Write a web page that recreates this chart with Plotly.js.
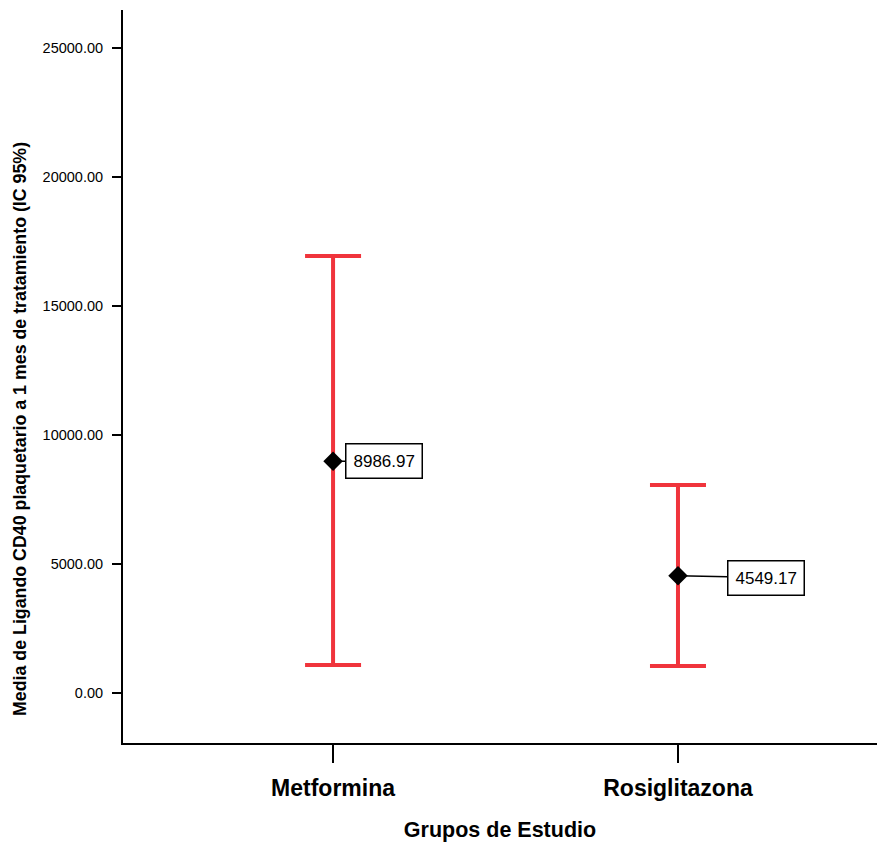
<!DOCTYPE html>
<html>
<head>
<meta charset="utf-8">
<script src="https://cdn.plot.ly/plotly-3.0.1.min.js"></script>
<style>html,body{margin:0;padding:0;background:#fff;}#chart{width:877px;height:846px;}</style>
</head>
<body>
<div id="chart"></div>
<script>
const categories = ["Metformina", "Rosiglitazona"];
const means = [8986.97, 4549.17];
const upperCI = [16938, 8062];
const lowerCI = [1085, 1047];
const labels = ["8986.97", "4549.17"];
const yTickVals = [0, 5000, 10000, 15000, 20000, 25000];
const yTickText = ["0.00", "5000.00", "10000.00", "15000.00", "20000.00", "25000.00"];

const errPlus = means.map((m, i) => upperCI[i] - m);
const errMinus = means.map((m, i) => m - lowerCI[i]);
const FONT = "Liberation Sans, Arial, sans-serif";

const trace = {
  type: "scatter",
  mode: "markers",
  x: categories,
  y: means,
  marker: { symbol: "diamond", size: 15, color: "#000" },
  error_y: {
    type: "data", symmetric: false,
    array: errPlus, arrayminus: errMinus,
    color: "rgb(240,52,60)", thickness: 4, width: 28
  },
  hoverinfo: "skip",
  showlegend: false
};

const offsets = [[51, 0], [88, 2]];
const annotations = categories.map((c, i) => ({
  x: c, y: means[i], xref: "x", yref: "y",
  text: labels[i],
  showarrow: true, arrowhead: 0, arrowwidth: 1.5, arrowcolor: "#000",
  ax: offsets[i][0], ay: offsets[i][1],
  bordercolor: "#000", borderwidth: 1.5, borderpad: 7,
  bgcolor: "#fff",
  font: { family: FONT, size: 17, color: "#000" }
}));

annotations.push({
  xref: "paper", yref: "paper",
  x: -0.1366, y: 0.4284, xanchor: "center", yanchor: "middle",
  textangle: -90, showarrow: false,
  text: "<b>Media de Ligando CD40 plaquetario a 1 mes de tratamiento (IC 95%)</b>",
  font: { family: FONT, size: 17.8, color: "#000" }
});

const layout = {
  width: 877, height: 846,
  margin: { l: 123, r: 0, t: 10, b: 103 },
  paper_bgcolor: "#fff", plot_bgcolor: "#fff",
  font: { family: FONT, color: "#000" },
  xaxis: {
    type: "category",
    range: [-0.609, 1.577],
    showgrid: false, zeroline: false,
    showline: true, linecolor: "#000", linewidth: 2,
    ticks: "outside", ticklen: 18, tickwidth: 1.5, tickcolor: "#000",
    tickfont: { size: 23, family: FONT, weight: "bold" },
    ticklabelstandoff: 5,
    title: { text: "<b>Grupos de Estudio</b>", font: { size: 21.5 }, standoff: 22 },
    automargin: false
  },
  yaxis: {
    range: [-1938, 26473],
    tickvals: yTickVals,
    ticktext: yTickText,
    showgrid: false, zeroline: false,
    showline: true, linecolor: "#000", linewidth: 2,
    ticks: "outside", ticklen: 9, tickwidth: 1.5, tickcolor: "#000",
    tickfont: { size: 14.5 },
    ticklabelstandoff: 6,
    automargin: false
  },
  annotations: annotations
};

Plotly.newPlot("chart", [trace], layout, { displayModeBar: false, staticPlot: true });
</script>
</body>
</html>
